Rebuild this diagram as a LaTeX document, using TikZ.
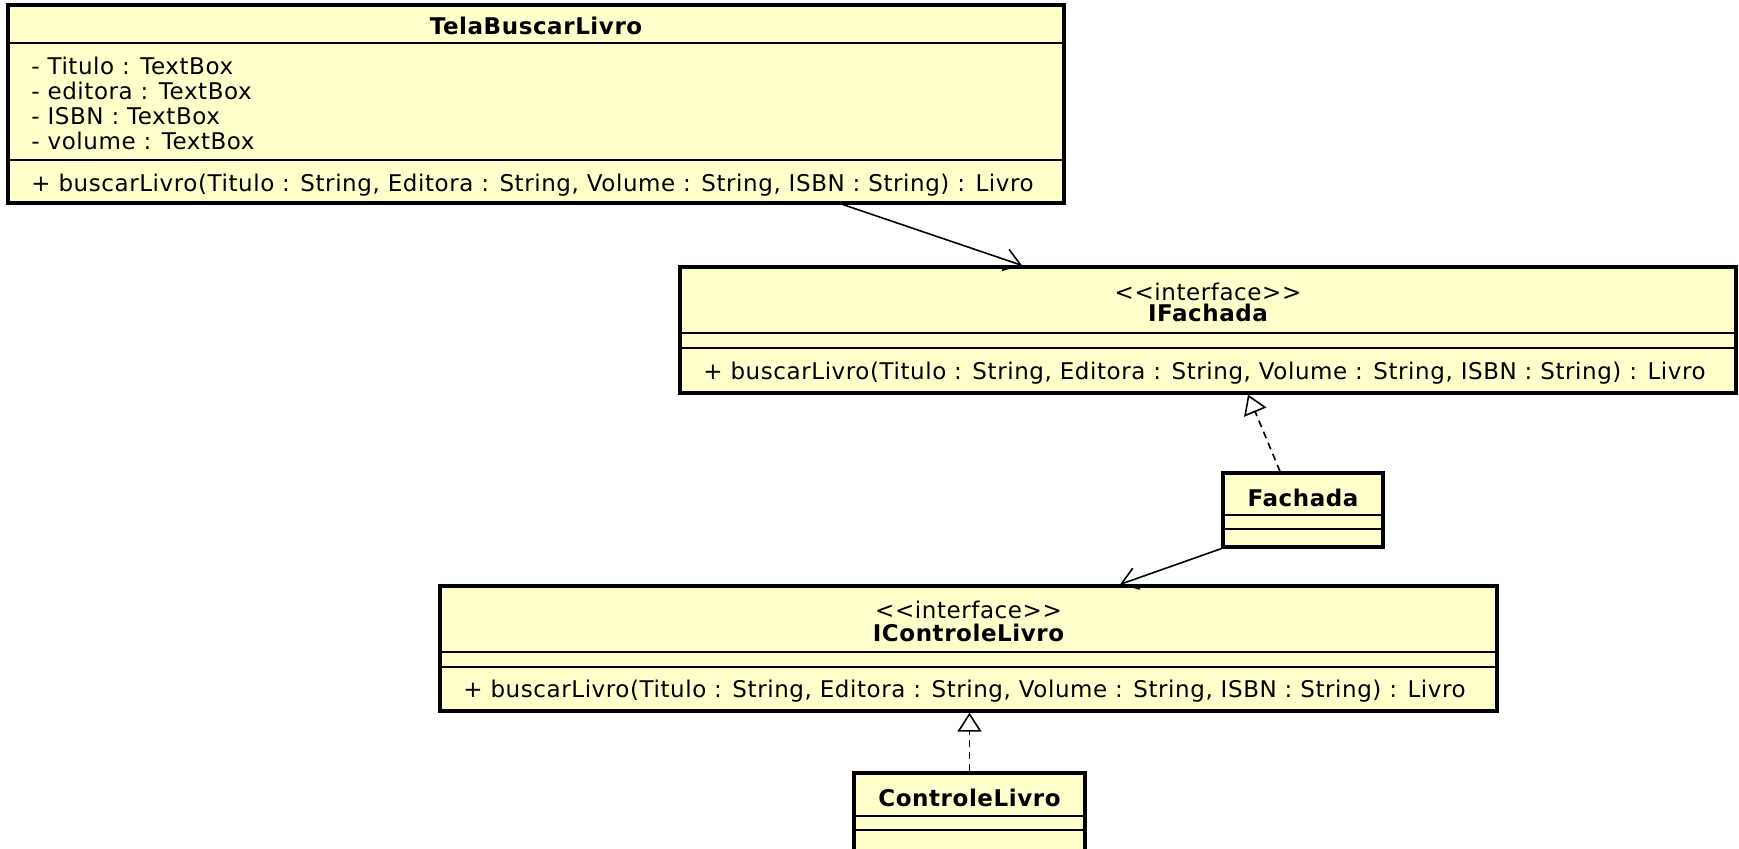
\documentclass[tikz,border=0pt]{standalone}
\usepackage{fontspec}
\setmainfont[LetterSpace=2.5]{DejaVu Sans}
\usetikzlibrary{arrows.meta, fit}
\definecolor{UMLFill}{RGB}{255,255,204}
\definecolor{UMLLine}{RGB}{0,0,0}
\newcommand{\opBuscar}{+ buscarLivro(Titulo : String, Editora : String, Volume : String, ISBN : String) : Livro}
\newcommand{\stereoIface}{{<}{<}interface{>}{>}}

\tikzset{
  classbox/.style={draw=UMLLine, fill=UMLFill, line width=1.6pt, inner sep=0pt},
  sepline/.style={draw=UMLLine, line width=0.8pt},
  membertext/.style={anchor=mid west, inner sep=0pt, font=\fontsize{11.5}{13}\selectfont},
  titletext/.style={anchor=mid, inner sep=0pt, font=\fontsize{11.5}{13}\selectfont\bfseries},
  stereotext/.style={anchor=mid, inner sep=0pt, font=\fontsize{11.5}{13}\selectfont},
  assoc/.style={draw=UMLLine, line width=0.8pt, -{Straight Barb[length=8pt, width=11pt]}},
  realize/.style={draw=UMLLine, line width=0.8pt, dash pattern=on 3.5pt off 2.5pt,
    -{Triangle[open, length=9.5pt, width=12pt, fill=white]}}
}

\begin{document}
\begin{tikzpicture}[x=0.5pt,y=-0.5pt]
  \path[use as bounding box] (0,0) rectangle (1739,849);
  \clip (0,0) rectangle (1739,849);

  % Class boxes
  \foreach \name/\xa/\ya/\xb/\yb in {tela/8/5/1064/203, ifach/680/267/1736/393,
      fach/1223/473/1383/547, ictl/440/586/1497/711, ctl/854/773/1085/880}{
    \node[classbox, fit={(\xa,\ya) (\xb,\yb)}] (\name) {};
  }

  % Compartment lines
  \foreach \name/\y in {tela/43, tela/160, ifach/333, ifach/348, fach/515, fach/529,
      ictl/652, ictl/667, ctl/816, ctl/830}{
    \draw[sepline] (\name.west |- 0,\y) -- (\name.east |- 0,\y);
  }

  % TelaBuscarLivro
  \node[titletext] (telaTitle) at (tela.north |- 0,29) {TelaBuscarLivro};
  \foreach \i/\y/\txt in {1/69/- Titulo : TextBox, 2/94/- editora : TextBox,
      3/119/- ISBN : TextBox, 4/144/- volume : TextBox}{
    \node[membertext] (telaAttr\i) at (31,\y) {\txt};
  }
  \node[membertext] (telaOp) at (31,186) {\opBuscar};

  % IFachada
  \node[stereotext] (ifachStereo) at (ifach.north |- 0,295) {\stereoIface};
  \node[titletext] (ifachTitle) at (ifach.north |- 0,316) {IFachada};
  \node[membertext] (ifachOp) at (703,374) {\opBuscar};

  % Fachada
  \node[titletext] (fachTitle) at (fach.north |- 0,501) {Fachada};

  % IControleLivro
  \node[stereotext] (ictlStereo) at (ictl.north |- 0,613) {\stereoIface};
  \node[titletext] (ictlTitle) at (ictl.north |- 0,636) {IControleLivro};
  \node[membertext] (ictlOp) at (463,692) {\opBuscar};

  % ControleLivro
  \node[titletext] (ctlTitle) at (ctl.north |- 0,801) {ControleLivro};

  % Connectors
  \draw[assoc] (tela.south -| 843,0) -- (ifach.north -| 1022,0);
  \draw[realize] (fach.north -| 1280,0) -- (ifach.south -| 1248,0);
  \draw[assoc] (fach.south west) -- (ictl.north -| 1120,0);
  \draw[realize] (ctl.north) -- (ictl.south -| ctl.north);
\end{tikzpicture}
\end{document}
